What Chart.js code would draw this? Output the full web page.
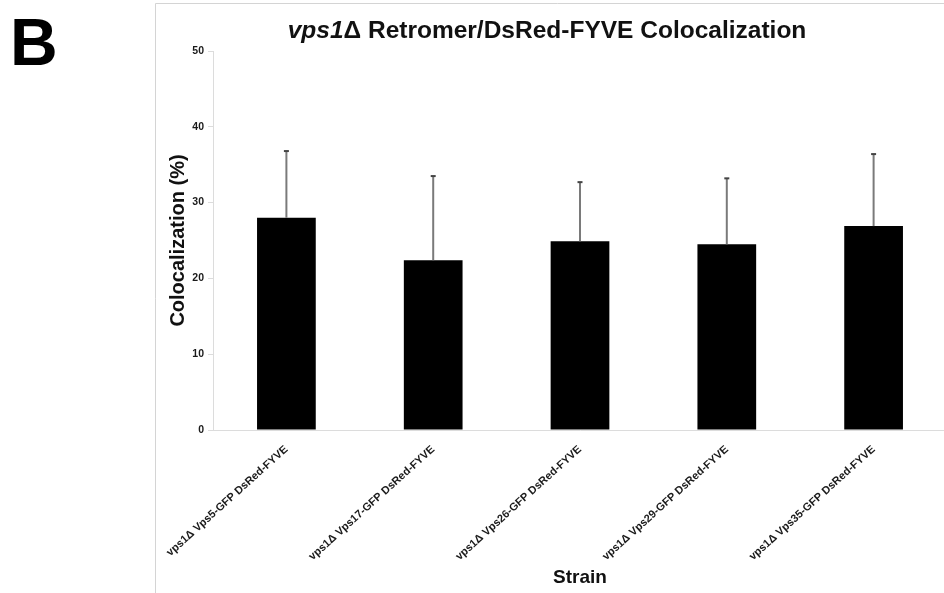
<!DOCTYPE html>
<html>
<head>
<meta charset="utf-8">
<script src="https://cdn.jsdelivr.net/npm/chart.js@4/dist/chart.umd.min.js"></script>
<style>
  html, body { margin: 0; padding: 0; background: #fff; overflow: hidden; }
  #wrap { width: 944px; height: 593px; overflow: hidden; }
  canvas { display: block; }
</style>
</head>
<body>
<div id="wrap"><canvas id="chart" width="960" height="593"></canvas></div>
<script>
// data
const strains = [
  'vps1\u0394 Vps5-GFP DsRed-FYVE',
  'vps1\u0394 Vps17-GFP DsRed-FYVE',
  'vps1\u0394 Vps26-GFP DsRed-FYVE',
  'vps1\u0394 Vps29-GFP DsRed-FYVE',
  'vps1\u0394 Vps35-GFP DsRed-FYVE'
];
const colocalization = [28.0, 22.4, 24.9, 24.5, 26.9];
const stdDev = [8.8, 11.1, 7.8, 8.7, 9.5];
const yMin = 0;
const yMax = 50;
const yStep = 10;

const FONT = '"Liberation Sans", Arial, sans-serif';

// panel letter, frame and the two-style title
const decorations = {
  id: 'decorations',
  beforeDraw(chart) {
    const ctx = chart.ctx;
    ctx.save();
    ctx.fillStyle = '#fff';
    ctx.fillRect(0, 0, chart.width, chart.height);

    ctx.strokeStyle = '#d4d4d4';
    ctx.lineWidth = 1;
    ctx.beginPath();
    ctx.moveTo(155.5, chart.height);
    ctx.lineTo(155.5, 3.5);
    ctx.lineTo(chart.width, 3.5);
    ctx.stroke();

    ctx.fillStyle = '#000';
    ctx.textBaseline = 'alphabetic';
    ctx.textAlign = 'left';
    ctx.font = 'bold 66px ' + FONT;
    ctx.fillText('B', 10, 65);

    const part1 = 'vps1';
    const part2 = '\u0394 Retromer/DsRed-FYVE Colocalization';
    const size = 24.5;
    ctx.font = 'italic bold ' + size + 'px ' + FONT;
    const w1 = ctx.measureText(part1).width;
    ctx.font = 'bold ' + size + 'px ' + FONT;
    const w2 = ctx.measureText(part2).width;
    const x0 = 547 - (w1 + w2) / 2;
    ctx.fillStyle = '#111';
    ctx.font = 'italic bold ' + size + 'px ' + FONT;
    ctx.fillText(part1, x0, 38);
    ctx.font = 'bold ' + size + 'px ' + FONT;
    ctx.fillText(part2, x0 + w1, 38);
    ctx.restore();
  }
};

// upper error bars only
const errorBars = {
  id: 'errorBars',
  afterDatasetsDraw(chart) {
    const ctx = chart.ctx;
    const yScale = chart.scales.y;
    const meta = chart.getDatasetMeta(0);
    ctx.save();
    meta.data.forEach((bar, i) => {
      const top = yScale.getPixelForValue(colocalization[i] + stdDev[i]);
      ctx.strokeStyle = '#7a7a7a';
      ctx.lineWidth = 2;
      ctx.beginPath();
      ctx.moveTo(bar.x, bar.y);
      ctx.lineTo(bar.x, top);
      ctx.stroke();
      ctx.strokeStyle = '#444';
      ctx.beginPath();
      ctx.moveTo(bar.x - 2.5, top);
      ctx.lineTo(bar.x + 2.5, top);
      ctx.stroke();
    });
    ctx.restore();
  }
};

new Chart(document.getElementById('chart'), {
  type: 'bar',
  data: {
    labels: strains,
    datasets: [{
      data: colocalization,
      backgroundColor: '#000',
      borderWidth: 0,
      categoryPercentage: 1,
      barPercentage: 0.4
    }]
  },
  options: {
    responsive: false,
    animation: false,
    layout: { padding: { left: 164, right: 13, top: 51, bottom: 0 } },
    plugins: {
      legend: { display: false },
      tooltip: { enabled: false }
    },
    scales: {
      x: {
        afterFit: (s) => { s.height = 163; },
        grid: { display: false },
        border: { display: true, color: '#dcdcdc', width: 1 },
        ticks: {
          minRotation: 42,
          maxRotation: 42,
          padding: 5,
          color: '#1a1a1a',
          font: { family: FONT, size: 11, weight: 'bold' }
        },
        title: {
          display: true,
          text: 'Strain',
          color: '#111',
          padding: { top: 0, bottom: 4 },
          font: { family: FONT, size: 19, weight: 'bold' }
        }
      },
      y: {
        min: yMin,
        max: yMax,
        afterFit: (s) => { s.width = 49; },
        grid: { drawOnChartArea: false, drawTicks: true, tickLength: 5, color: '#dcdcdc' },
        border: { display: true, color: '#dcdcdc', width: 1 },
        ticks: {
          stepSize: yStep,
          padding: 4,
          color: '#1a1a1a',
          font: { family: FONT, size: 10.5, weight: 'bold' }
        },
        title: {
          display: true,
          text: 'Colocalization (%)',
          color: '#111',
          padding: { top: 2, bottom: 0 },
          font: { family: FONT, size: 20, weight: 'bold' }
        }
      }
    }
  },
  plugins: [decorations, errorBars]
});
</script>
</body>
</html>
